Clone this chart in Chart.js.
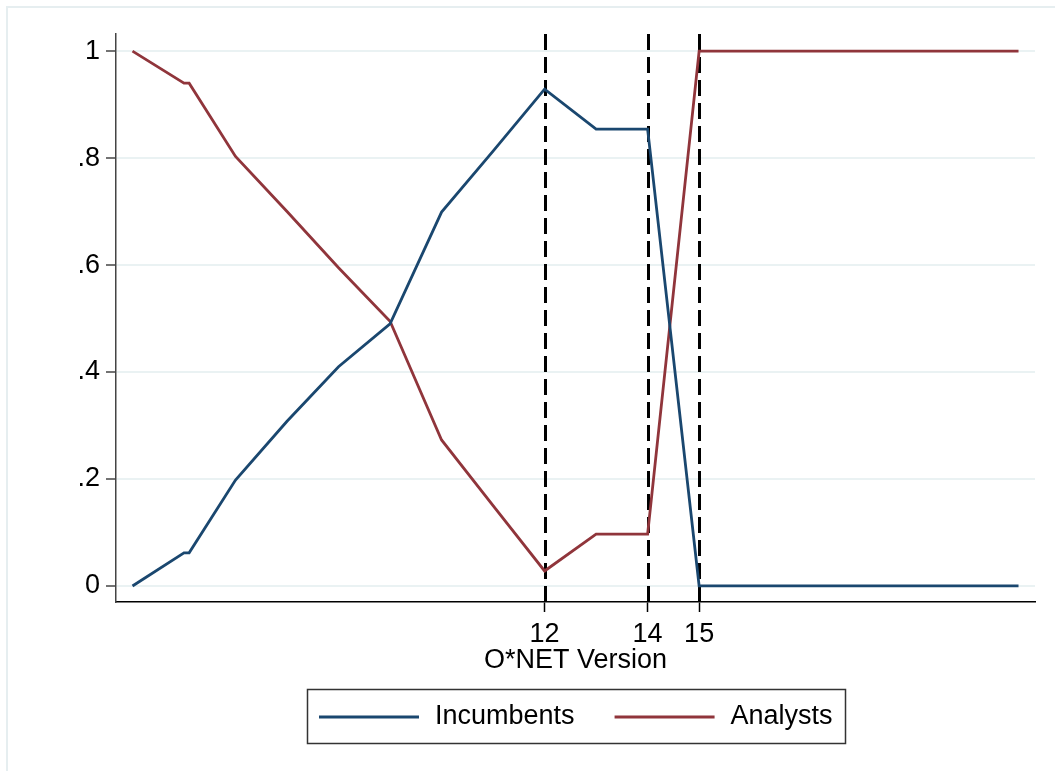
<!DOCTYPE html>
<html>
<head>
<meta charset="utf-8">
<title>O*NET Version</title>
<script src="https://cdn.jsdelivr.net/npm/chart.js@4.4.1/dist/chart.umd.min.js"></script>
<style>
	html, body { margin: 0; padding: 0; background: #fff; }
	#wrap { width: 1055px; height: 771px; position: relative; }
</style>
</head>
<body>
<div id="wrap"><canvas id="onetChart"></canvas></div>
<script>
	// share of each source by O*NET release
	const versions    = [ 4, 5, 5.1, 6, 7, 8, 9, 10, 11, 12, 13, 14, 15, 21.2 ];
	const incumbents  = [ 0, 0.062, 0.062, 0.198, 0.308, 0.41, 0.49, 0.699, 0.813, 0.929, 0.854, 0.854, 0, 0 ];
	const analysts    = [ 1, 0.94, 0.94, 0.803, 0.70, 0.595, 0.495, 0.273, 0.15, 0.028, 0.097, 0.097, 1, 1 ];
	const seriesNames = [ 'Incumbents', 'Analysts' ];
	const xTicks      = [ 12, 14, 15 ];
	const yTicks      = [ 0, 0.2, 0.4, 0.6, 0.8, 1 ];
	const markLines   = [ 12, 14, 15 ];

	const FONT  = "'Liberation Sans', Arial, sans-serif";
	const FSIZE = 27;
	const NAVY  = '#1a476f';
	const MAROON = '#90353b';

	function toPoints( ys ) {
		return versions.map( function ( v, i ) { return { x: v, y: ys[ i ] }; } );
	}

	function fmtY( v ) {
		if ( v === 0 ) return '0';
		if ( v === 1 ) return '1';
		return String( +v.toFixed( 1 ) ).replace( /^0/, '' );
	}

	// page frame + white background
	const frame = {
		id: 'frame',
		beforeDraw: function ( chart ) {
			const ctx = chart.ctx;
			ctx.save();
			ctx.fillStyle = '#fff';
			ctx.fillRect( 0, 0, chart.width, chart.height );
			ctx.strokeStyle = '#e6eef0';
			ctx.lineWidth = 2;
			ctx.strokeRect( 7, 7, chart.width + 20, chart.height + 20 );
			ctx.restore();
		},
	};

	// dashed xlines at versions 12, 14, 15
	const xlines = {
		id: 'xlines',
		beforeDatasetsDraw: function ( chart ) {
			const ctx = chart.ctx;
			const area = chart.chartArea;
			const xs = chart.scales.x;
			ctx.save();
			ctx.strokeStyle = '#000';
			ctx.lineWidth = 3;
			ctx.setLineDash( [ 16, 7 ] );
			markLines.forEach( function ( v ) {
				const px = Math.round( xs.getPixelForValue( v ) ) + 0.5;
				ctx.beginPath();
				ctx.moveTo( px, area.top );
				ctx.lineTo( px, area.bottom );
				ctx.stroke();
			} );
			ctx.restore();
		},
	};

	// boxed legend under the axis title
	const boxLegend = {
		id: 'boxLegend',
		afterDraw: function ( chart ) {
			const ctx = chart.ctx;
			const area = chart.chartArea;
			const sets = chart.data.datasets;
			const lineW = 100, gapT = 16, gapI = 40, padX = 12;
			ctx.save();
			ctx.font = FSIZE + 'px ' + FONT;
			let total = padX * 2;
			sets.forEach( function ( ds, i ) {
				total += lineW + gapT + ctx.measureText( ds.label ).width;
				if ( i < sets.length - 1 ) total += gapI;
			} );
			const top = area.bottom + 87;
			const h = 54;
			const left = Math.round( ( area.left + area.right ) / 2 - total / 2 );
			ctx.strokeStyle = '#333';
			ctx.lineWidth = 1.5;
			ctx.strokeRect( left + 0.5, top + 0.5, Math.round( total ), h );
			const cy = top + h / 2 + 1;
			let x = left + padX;
			ctx.textBaseline = 'middle';
			ctx.fillStyle = '#000';
			sets.forEach( function ( ds ) {
				ctx.strokeStyle = ds.borderColor;
				ctx.lineWidth = 2.8;
				ctx.beginPath();
				ctx.moveTo( x, cy );
				ctx.lineTo( x + lineW, cy );
				ctx.stroke();
				x += lineW + gapT;
				ctx.fillText( ds.label, x, cy );
				x += ctx.measureText( ds.label ).width + gapI;
			} );
			ctx.restore();
		},
	};

	Chart.defaults.font.family = FONT;
	Chart.defaults.font.size   = FSIZE;
	Chart.defaults.color       = '#000';

	new Chart( document.getElementById( 'onetChart' ), {
		type: 'line',
		data: {
			datasets: [ {
				label:       seriesNames[ 0 ],
				data:        toPoints( incumbents ),
				borderColor: NAVY,
				borderWidth: 2.8,
				pointRadius: 0,
				tension:     0,
			}, {
				label:       seriesNames[ 1 ],
				data:        toPoints( analysts ),
				borderColor: MAROON,
				borderWidth: 2.8,
				pointRadius: 0,
				tension:     0,
			} ],
		},
		options: {
			responsive:          true,
			maintainAspectRatio: false,
			animation:           false,
			events:              [],
			layout: { padding: { top: 34, right: 20, bottom: 94, left: 0 } },
			plugins: {
				legend:  { display: false },
				tooltip: { enabled: false },
			},
			scales: {
				x: {
					type: 'linear',
					min:  3.68,
					max:  21.52,
					afterBuildTicks: function ( s ) {
						s.ticks = xTicks.map( function ( v ) { return { value: v }; } );
					},
					afterFit: function ( s ) { s.height = 75; },
					grid: {
						drawOnChartArea: false,
						drawTicks:       true,
						tickLength:      10,
						tickColor:       '#000',
						tickWidth:       1.5,
					},
					border: { color: '#000', width: 1.5 },
					ticks: {
						padding:     6,
						maxRotation: 0,
						autoSkip:    false,
						callback: function ( v ) { return String( v ); },
					},
					title: {
						display: true,
						text:    'O*NET Version',
						padding: { top: 0, bottom: 0 },
					},
				},
				y: {
					min: -0.03,
					max: 1.032,
					afterBuildTicks: function ( s ) {
						s.ticks = yTicks.map( function ( v ) { return { value: v }; } );
					},
					afterFit: function ( s ) { s.width = 116; },
					grid: {
						color:      '#eaf2f3',
						lineWidth:  2,
						drawTicks:  true,
						tickLength: 10,
						tickColor:  '#444',
						tickWidth:  1.5,
					},
					border: { color: '#444', width: 1.5 },
					ticks: {
						padding:  6,
						callback: function ( v ) { return fmtY( v ); },
					},
				},
			},
		},
		plugins: [ frame, xlines, boxLegend ],
	} );
</script>
</body>
</html>
